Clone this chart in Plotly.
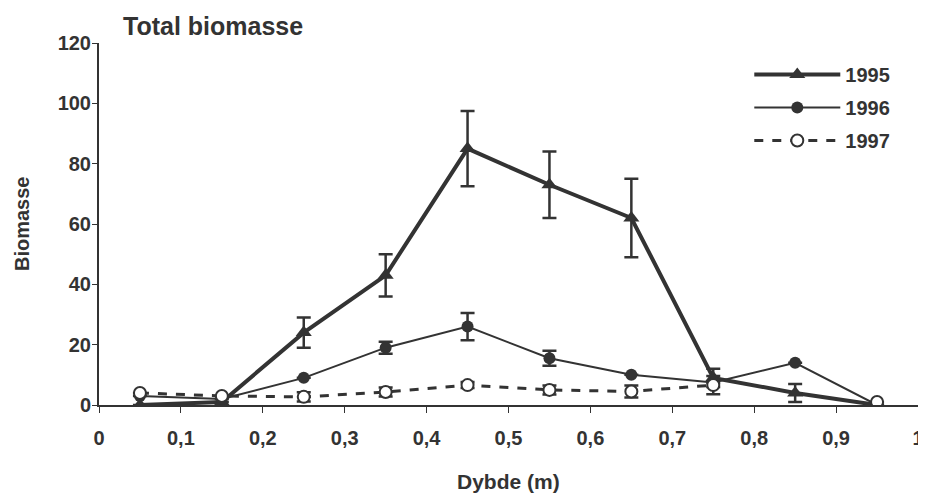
import plotly.graph_objects as go

depth = [0.05, 0.15, 0.25, 0.35, 0.45, 0.55, 0.65, 0.75, 0.85, 0.95]
b1995 = [0, 1, 24, 43, 85, 73, 62, 9, 4, 0]
e1995 = [0, 0, 5, 7, 12.5, 11, 13, 3, 3, 0]
b1996 = [3, 2, 9, 19, 26, 15.5, 10, 7.5, 14, 0]
e1996 = [0, 0, 0, 2, 4.5, 2.5, 0, 0, 0, 0]
b1997 = [4, 3, 2.7, 4.3, 6.6, 5, 4.5, 6.6, None, 1]
e1997 = [0, 0, 1.5, 1.5, 1, 1.5, 2, 3, 0, 0]

C = "#333333"
FONT = "Liberation Sans"

fig = go.Figure()
fig.add_trace(go.Scatter(
    x=depth, y=b1995, name="<b>1995</b>", mode="lines+markers", legendgroup="a",
    line=dict(color=C, width=4),
    marker=dict(symbol="triangle-up", size=14, color=C),
    error_y=dict(type="data", array=e1995, color=C, thickness=2.5, width=7),
))
fig.add_trace(go.Scatter(
    x=depth, y=b1996, name="<b>1996</b>", mode="lines+markers", legendgroup="b",
    line=dict(color=C, width=2),
    marker=dict(symbol="circle", size=12, color=C),
    error_y=dict(type="data", array=e1996, color=C, thickness=2.5, width=7),
))
fig.add_trace(go.Scatter(
    x=depth, y=b1997, name="<b>1997</b>", mode="lines+markers", legendgroup="c",
    line=dict(color=C, width=3, dash="dash"),
    marker=dict(symbol="circle", size=12, color="white", line=dict(color=C, width=2)),
    error_y=dict(type="data", array=e1997, color=C, thickness=2.5, width=7),
    connectgaps=False,
))

fig.update_layout(
    width=918, height=485,
    margin=dict(l=91, r=8, t=35, b=88),
    paper_bgcolor="white", plot_bgcolor="white",
    separators=", ",
    font=dict(family=FONT, size=20, color=C),
    title=dict(text="<b>Total biomasse</b>", x=0.1253, xanchor="left", y=0.963, yanchor="middle",
               font=dict(size=25, family=FONT, color=C)),
    showlegend=True,
    legend=dict(x=0.794, y=0.967, xanchor="left", yanchor="top", itemwidth=86,
                font=dict(size=20, family=FONT, color=C), tracegroupgap=4,
                bgcolor="rgba(0,0,0,0)"),
    xaxis=dict(range=[0, 1], dtick=0.1, tick0=0, showgrid=False, zeroline=False,
               showline=True, linecolor=C, linewidth=2, ticks="outside", ticklen=6,
               tickcolor=C, tickfont=dict(size=20, family=FONT, color=C), automargin=False,
               ticklabelstandoff=8,
               tickprefix="<b>", ticksuffix="</b>"),
    yaxis=dict(range=[0, 120], dtick=20, showgrid=False, zeroline=False,
               showline=True, linecolor=C, linewidth=2, ticks="outside", ticklen=5,
               tickcolor=C, tickfont=dict(size=20, family=FONT, color=C), automargin=False,
               ticklabelstandoff=-3,
               tickprefix="<b>", ticksuffix="</b>"),
    annotations=[
        dict(text="<b>Dybde (m)</b>", xref="paper", yref="paper", x=0.5, y=-0.21,
             xanchor="center", yanchor="middle", showarrow=False,
             font=dict(size=21, family=FONT, color=C)),
        dict(text="<b>Biomasse</b>", xref="paper", yref="paper", x=-0.094, y=0.5,
             xanchor="center", yanchor="middle", showarrow=False, textangle=-90,
             font=dict(size=20, family=FONT, color=C)),
    ],
)

fig.write_html("out.html")
